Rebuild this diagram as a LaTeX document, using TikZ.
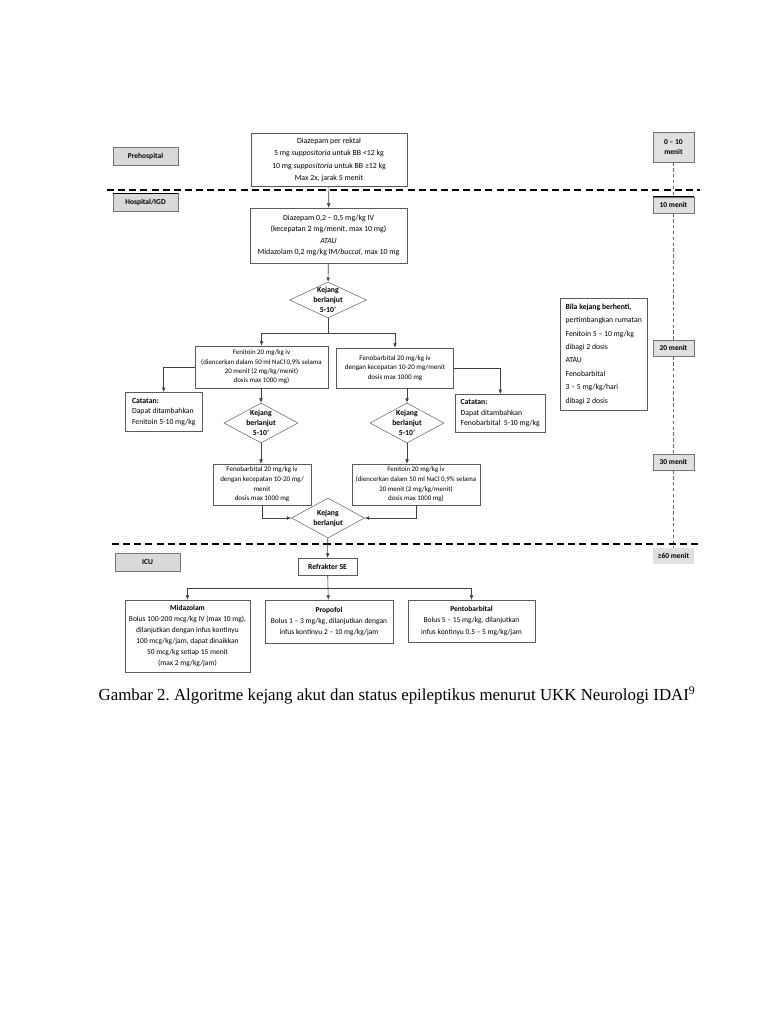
\documentclass[tikz,border=0pt]{standalone}
\usepackage{fontspec}
\setmainfont{Carlito}
\newfontfamily\capfont{Liberation Serif}
\usetikzlibrary{arrows.meta,positioning,shapes.geometric,calc}
\frenchspacing
\tikzset{
 box/.style={draw=black!65,fill=white,align=center,inner sep=1pt,
             font=\fontsize{6.6}{9}\selectfont},
 notebox/.style={box,align=left,anchor=north west,inner sep=3pt},
 lbl/.style={draw=black!55,fill=black!15,align=center,minimum width=1.95cm,
             minimum height=0.53cm,font=\fontsize{6.4}{8}\selectfont\bfseries},
 tbox/.style={draw=black!55,fill=black!12,align=center,minimum width=1.23cm,
             minimum height=0.48cm,font=\fontsize{6.4}{8}\selectfont\bfseries},
 dia/.style={diamond,draw=black!65,fill=white,inner sep=0pt},
 dtext/.style={align=center,font=\fontsize{6.6}{8.6}\selectfont\bfseries},
 arrow/.style={-{Latex[length=1.3mm,width=1.1mm]},draw=black!75,line width=0.5pt},
 link/.style={draw=black!75,line width=0.5pt},
 divider/.style={dash pattern=on 6pt off 3.5pt,line width=1pt},
 timeline/.style={dash pattern=on 3pt off 2pt,draw=black!60,line width=0.4pt}
}

\begin{document}
\begin{tikzpicture}[x=0.03cm,y=-0.03cm]
\useasboundingbox[fill=white] (0,0) rectangle (768,1024);

% phase labels
\node[lbl] (pre) at (145.5,156.5) {Prehospital};
\node[lbl] (hosp) at (145.5,202.5) {Hospital/IGD};
\node[lbl] (icu) at (147.5,562.5) {ICU};
\draw[line width=1.2pt] (hosp.north west) -- (hosp.north east);

% time scale
\node[tbox,minimum height=0.9cm] (t010) at (673.5,147) {0 -- 10\\menit};
\node[tbox] (t10) at (673.5,205) {10 menit};
\node[tbox] (t20) at (673.5,348) {20 menit};
\node[tbox] (t30) at (673.5,462) {30 menit};
\node[tbox,draw=none] (t60) at (673.5,556) {≥60 menit};
\draw[line width=1.2pt] (t10.north west) -- (t10.north east);
\draw[timeline] (t010) -- (t10);
\draw[timeline] (t10) -- (t20);
\draw[timeline] (t20) -- (t30);
\draw[timeline] (t30) -- (t60);

% dividers
\draw[divider] (107,190) -- (700,190);
\draw[divider] (112,544) -- (700,544);

% first line
\node[box,minimum width=4.68cm,minimum height=1.59cm,font=\fontsize{6.7}{10.6}\selectfont] (rektal) at (329,160)
  {Diazepam per rektal\\5 mg \textit{suppositoria} untuk BB <12 kg\\10 mg \textit{suppositoria} untuk BB ≥12 kg\\Max 2x, jarak 5 menit};
\node[box,minimum width=4.71cm,minimum height=1.65cm,font=\fontsize{6.7}{9.6}\selectfont] (iv) at (328.5,235.5)
  {Diazepam 0,2 -- 0,5 mg/kg IV\\(kecepatan 2 mg/menit, max 10 mg)\\\textit{ATAU}\\Midazolam 0,2 mg/kg IM/\textit{buccal}, max 10 mg};
\node[dia,minimum width=2.31cm,minimum height=1.08cm] (d1) at (328,300) {};
\node[dtext] at (d1) {Kejang\\berlanjut\\5-10'};
\draw[arrow] (rektal) -- (iv);
\draw[arrow] (iv) -- (d1);

% second line
\coordinate (br1) at (328,333);
\node[box,minimum width=3.99cm,minimum height=1.26cm,font=\fontsize{5.9}{8}\selectfont] (fen1) at (261.5,367)
  {Fenitoin 20 mg/kg iv\\(diencerkan dalam 50 ml NaCl 0,9\% selama\\20 menit (2 mg/kg/menit)\\dosis max 1000 mg)};
\node[box,minimum width=3.51cm,minimum height=1.2cm,font=\fontsize{6}{8.4}\selectfont] (fenob1) at (395,368)
  {Fenobarbital 20 mg/kg iv\\dengan kecepatan 10-20 mg/menit\\dosis max 1000 mg};
\draw[link] (d1) -- (br1);
\draw[arrow] (br1) -| (fen1.north);
\draw[arrow] (br1) -| (fenob1.north);

\node[notebox,minimum width=2.31cm,minimum height=1.17cm] (catL) at (125,392)
  {\textbf{Catatan:}\\Dapat ditambahkan\\Fenitoin 5-10 mg/kg};
\node[notebox,minimum width=2.7cm,minimum height=1.14cm] (catR) at (455,394)
  {\textbf{Catatan:}\\Dapat ditambahkan\\Fenobarbital~ 5-10 mg/kg};
\draw[arrow] (fen1.west) -| (catL.north);
\draw[arrow] (fenob1.east) -| (catR.north);

\node[notebox,minimum width=2.61cm,minimum height=3.36cm,font=\fontsize{6.6}{11.4}\selectfont] (bila) at (560,298)
  {\textbf{Bila kejang berhenti,}\\pertimbangkan rumatan\\Fenitoin 5 -- 10 mg/kg\\dibagi 2 dosis\\ATAU\\Fenobarbital\\3 -- 5 mg/kg/hari\\dibagi 2 dosis};

\node[dia,minimum width=2.22cm,minimum height=1.2cm] (d2l) at (261,423) {};
\node[dtext] at (d2l) {Kejang\\berlanjut\\5-10'};
\node[dia,minimum width=2.22cm,minimum height=1.2cm] (d2r) at (407,423) {};
\node[dtext] at (d2r) {Kejang\\berlanjut\\5-10'};
\draw[arrow] (fen1.south -| d2l) -- (d2l);
\draw[arrow] (fenob1.south -| d2r) -- (d2r);

% third line
\node[box,minimum width=2.94cm,minimum height=1.23cm,font=\fontsize{6}{8.2}\selectfont] (fenob2) at (262,484.5)
  {Fenobarbital 20 mg/kg iv\\dengan kecepatan 10-20 mg/\\menit\\dosis max 1000 mg};
\node[box,minimum width=3.84cm,minimum height=1.23cm,font=\fontsize{5.9}{8.2}\selectfont] (fen2) at (416,484.5)
  {Fenitoin 20 mg/kg iv\\(diencerkan dalam 50 ml NaCl 0,9\% selama\\20 menit (2 mg/kg/menit)\\dosis max 1000 mg)};
\draw[arrow] (d2l) -- (fenob2.north -| d2l);
\draw[arrow] (d2r) -- (fen2.north -| d2r);

\node[dia,minimum width=2.19cm,minimum height=1.2cm] (d3) at (328,518) {};
\node[dtext] at (d3) {Kejang\\berlanjut};
\draw[arrow] (fenob2.south) |- (d3);
\draw[arrow] (fen2.south) |- (d3);

% ICU
\node[box,minimum width=1.77cm,minimum height=0.51cm,font=\fontsize{6.6}{8}\selectfont\bfseries] (refr) at (327.5,566.5) {Refrakter SE};
\draw[arrow] (d3) -- (refr);
\coordinate (br2) at (328,588);
\node[box,minimum width=3.75cm,minimum height=2.16cm,font=\fontsize{6.4}{9.4}\selectfont] (mid) at (187.5,636)
  {\textbf{Midazolam}\\Bolus 100-200 mcg/kg IV (max 10 mg),\\dilanjutkan dengan infus kontinyu\\100 mcg/kg/jam, dapat dinaikkan\\50 mcg/kg setiap 15 menit\\(max 2 mg/kg/jam)};
\node[box,minimum width=3.84cm,minimum height=1.29cm,font=\fontsize{6.4}{9.4}\selectfont] (prop) at (329,621.5)
  {\textbf{Propofol}\\Bolus 1 -- 3 mg/kg, dilanjutkan dengan\\infus kontinyu 2 -- 10 mg/kg/jam};
\node[box,minimum width=3.81cm,minimum height=1.26cm,font=\fontsize{6.4}{9.4}\selectfont] (pento) at (471.5,621)
  {\textbf{Pentobarbital}\\Bolus 5 -- 15 mg/kg, dilanjutkan\\infus kontinyu 0,5 -- 5 mg/kg/jam};
\draw[link] (refr) -- (br2);
\draw[arrow] (br2) -| (mid.north);
\draw[arrow] (br2) -- (prop);
\draw[arrow] (br2) -| (pento.north);

% caption
\node[font=\capfont\fontsize{14.4}{17}\selectfont] (cap) at (397,695)
  {Gambar 2. Algoritme kejang akut dan status epileptikus menurut UKK Neurologi IDAI\textsuperscript{9}};
\end{tikzpicture}
\end{document}
